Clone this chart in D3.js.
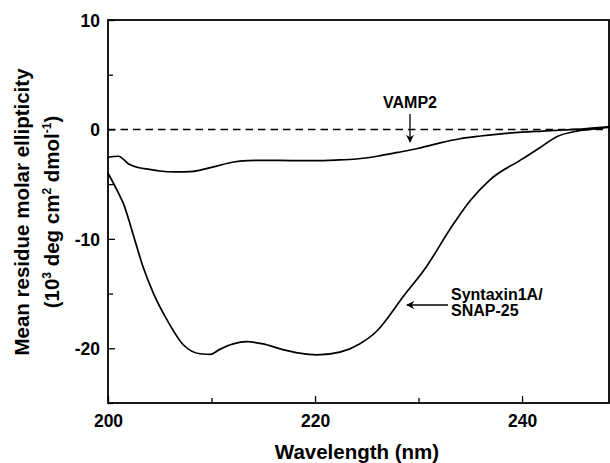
<!DOCTYPE html>
<html><head><meta charset="utf-8">
<script src="https://cdn.jsdelivr.net/npm/d3@7"></script>
<style>
body{margin:0;background:#fff;}
svg{display:block;font-family:Arial,"Liberation Sans",sans-serif;}
</style></head>
<body><svg id="c" width="610" height="463"></svg>
<script>
const vampWavelength = [200,201,202,203,204,205,206.5,208,209,210.5,212,213.5,215,218,220,222,224,226,228,230,232,234,236,238,240,242,244,246,248.5];
const vampValue = [-2.55,-2.45,-3.15,-3.5,-3.65,-3.8,-3.88,-3.85,-3.7,-3.35,-3.0,-2.85,-2.82,-2.85,-2.85,-2.8,-2.7,-2.45,-2.1,-1.72,-1.25,-0.85,-0.6,-0.4,-0.25,-0.15,-0.05,0.05,0.25];
const synWavelength = [200,201,201.5,202.4,203.4,204.4,205.7,207.3,208.9,209.9,210.8,212.1,213.4,215,216.8,218.5,220.2,222.4,224.3,226,227.2,228.5,230.5,233.4,235,236.9,239.8,241.6,243.4,245.3,247,248.5];
const synValue = [-4.0,-5.8,-6.8,-9.5,-12.6,-15.0,-17.4,-19.7,-20.5,-20.55,-20.1,-19.6,-19.4,-19.6,-20.1,-20.45,-20.6,-20.35,-19.6,-18.4,-17.0,-15.3,-12.9,-8.6,-6.5,-4.6,-2.83,-1.75,-0.64,-0.15,0.05,0.2];
const xTicks = [200,210,220,230,240];
const xTickLabels = ["200","","220","","240"];
const yTicks = [-25,-20,-15,-10,-5,0,5,10];
const yTickLabels = ["","-20","","-10","","0","","10"];

const svg = d3.select("#c");
const L=108, R=609, T=20, B=403;
const x = d3.scaleLinear().domain([200,248.4]).range([L,R]);
const y = d3.scaleLinear().domain([-25,10]).range([B,T]);

// zero dashed line
svg.append("line").attr("x1",L).attr("x2",R).attr("y1",y(0)).attr("y2",y(0))
  .attr("stroke","#000").attr("stroke-width",1.6).attr("stroke-dasharray","7.5,5");

const line = d3.line().x(d=>x(d[0])).y(d=>y(d[1])).curve(d3.curveMonotoneX);
svg.append("path").datum(d3.zip(vampWavelength,vampValue)).attr("d",line)
  .attr("fill","none").attr("stroke","#000").attr("stroke-width",1.7);
svg.append("path").datum(d3.zip(synWavelength,synValue)).attr("d",line)
  .attr("fill","none").attr("stroke","#000").attr("stroke-width",1.7);

// axes
const xAxis = d3.axisBottom(x).tickValues(xTicks).tickSizeOuter(0)
  .tickSizeInner(-6).tickPadding(12).tickFormat((d,i)=>xTickLabels[i]);
const gx = svg.append("g").attr("transform",`translate(0,${B})`).call(xAxis);
gx.selectAll(".tick line").attr("y2",d=> d%20===0 ? -7 : -5);
const yAxis = d3.axisLeft(y).tickValues(yTicks).tickSizeOuter(0)
  .tickSizeInner(-7).tickPadding(8).tickFormat((d,i)=>yTickLabels[i]);
const gy = svg.append("g").attr("transform",`translate(${L},0)`).call(yAxis);
gy.selectAll(".tick line").attr("x2",d=> d%10===0 ? 7 : 5);
[gx,gy].forEach(g=>{
  g.select(".domain").remove();
  g.selectAll(".tick line").attr("stroke","#000").attr("stroke-width",1.3);
  g.selectAll("text").attr("font-size",17.5).attr("font-weight","bold").attr("fill","#000")
   .attr("font-family",'Arial,"Liberation Sans",sans-serif');
});
gy.selectAll("text").attr("x",-8).attr("dy","0.36em");

// frame
svg.append("rect").attr("x",L).attr("y",T).attr("width",R-L).attr("height",B-T)
  .attr("fill","none").attr("stroke","#000").attr("stroke-width",1.8);

// axis titles
svg.append("text").attr("x",357).attr("y",459).attr("text-anchor","middle")
  .attr("font-size",20.5).attr("font-weight","bold").text("Wavelength (nm)");
const yt = svg.append("g").attr("transform","translate(0,212) rotate(-90)");
yt.append("text").attr("x",0).attr("y",29).attr("text-anchor","middle")
  .attr("font-size",20.5).attr("font-weight","bold").text("Mean residue molar ellipticity");
const t2 = yt.append("g").attr("transform","translate(0,0)").append("text").attr("x",0).attr("y",59).attr("text-anchor","middle")
  .attr("font-size",20.5).attr("font-weight","bold");
t2.append("tspan").text("(10");
t2.append("tspan").attr("font-size",12).attr("dy",-8).text("3");
t2.append("tspan").attr("dy",8).text(" deg cm");
t2.append("tspan").attr("font-size",12).attr("dy",-8).text("2");
t2.append("tspan").attr("dy",8).text(" dmol");
t2.append("tspan").attr("font-size",12).attr("dy",-8).text("-1");
t2.append("tspan").attr("dy",8).text(")");

// annotations
svg.append("defs").append("marker").attr("id","ah").attr("viewBox","0 0 10 10")
  .attr("refX",9).attr("refY",5).attr("markerWidth",8).attr("markerHeight",8)
  .attr("orient","auto-start-reverse").attr("markerUnits","userSpaceOnUse")
  .append("path").attr("d","M0,0 L10,5 L0,10 L3,5 Z").attr("fill","#000");
svg.append("text").attr("x",410).attr("y",108).attr("text-anchor","middle")
  .attr("font-size",16).attr("font-weight","bold").text("VAMP2");
svg.append("line").attr("x1",410).attr("x2",410).attr("y1",114).attr("y2",142)
  .attr("stroke","#000").attr("stroke-width",1.3).attr("marker-end","url(#ah)");
svg.append("line").attr("x1",448).attr("x2",407).attr("y1",305).attr("y2",305)
  .attr("stroke","#000").attr("stroke-width",1.3).attr("marker-end","url(#ah)");
svg.append("text").attr("x",451).attr("y",300)
  .attr("font-size",16).attr("font-weight","bold").text("Syntaxin1A/");
svg.append("text").attr("x",451).attr("y",316)
  .attr("font-size",16).attr("font-weight","bold").text("SNAP-25");
</script></body></html>
